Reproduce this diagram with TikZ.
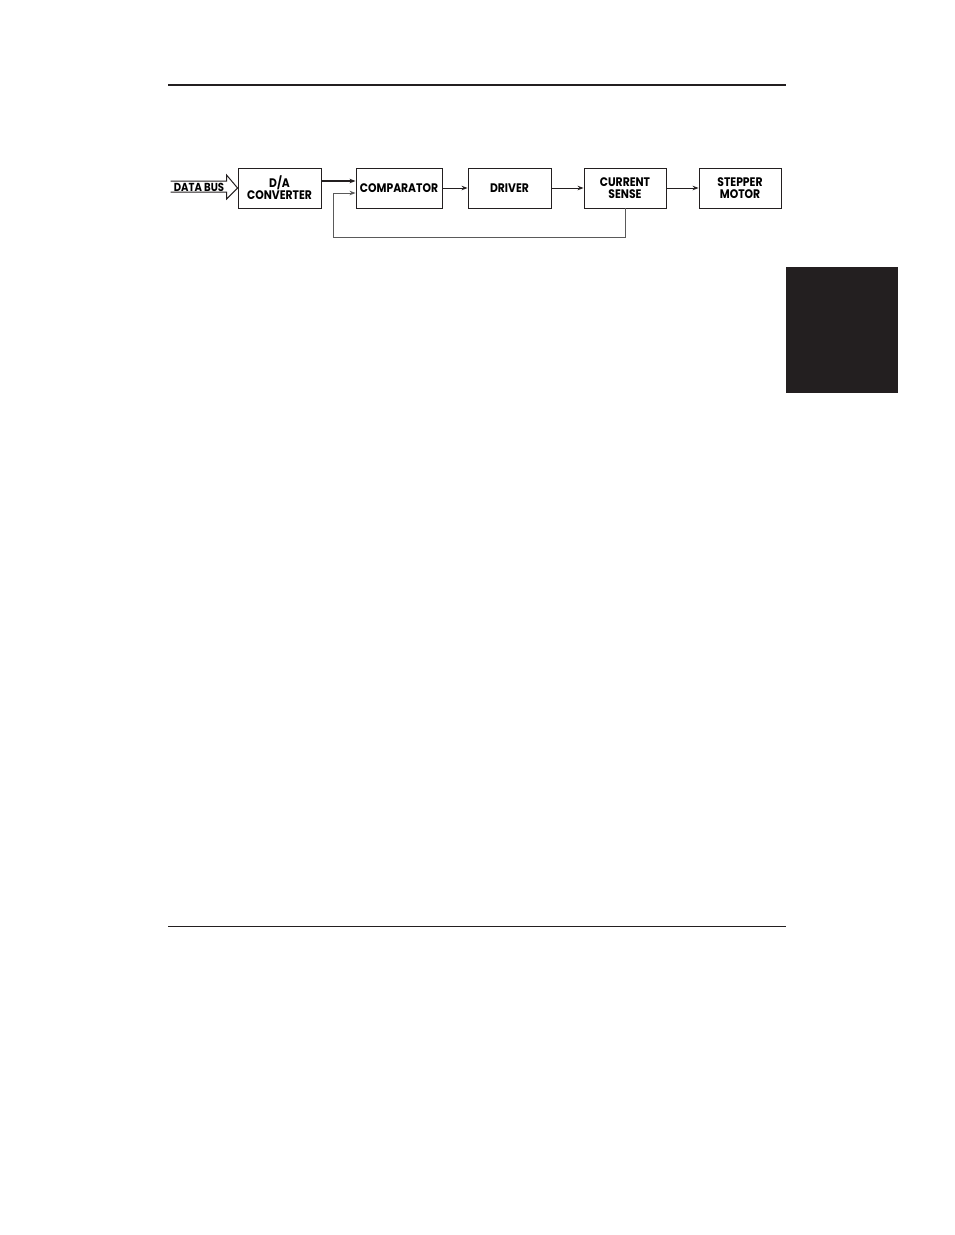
\documentclass[tikz,border=0pt]{standalone}
\usepackage{fontspec}
\setsansfont{Poppins}[FakeStretch=0.87]
\usepackage{tikz}
\usetikzlibrary{arrows.meta}
\usetikzlibrary{calc}
\definecolor{ink1}{RGB}{35, 31, 32}
\definecolor{grey1}{RGB}{90, 90, 90}

\begin{document}
\begin{tikzpicture}[x=1pt, y=-1pt, line width=0.9pt, draw=ink1,
  blk/.style={rectangle, draw=ink1, line width=0.9pt, minimum height=40pt, inner sep=0pt,
    align=center, font=\sffamily\bfseries\fontsize{12.4}{12}\selectfont},
  tip1/.style={-{Stealth[length=6pt,width=4.5pt]}}]
  \useasboundingbox (0,0) rectangle (954,1235);

  % page rules and tab
  \draw[line width=2pt] (168,85) -- (786,85);
  \draw[line width=1pt] (168,926) -- (786,926);
  \fill[ink1] (786,267) rectangle (898,393);

  \node[blk, minimum width=83pt] (da) at (279.5,188) {D/A\\CONVERTER};
  \node[blk, minimum width=86pt] (comp) at (399,188) {COMPARATOR};
  \node[blk, minimum width=83pt] (drv) at (509.5,188) {DRIVER};
  \node[blk, minimum width=82pt] (cs) at (625,188) {CURRENT\\SENSE};
  \node[blk, minimum width=82pt] (sm) at (740,188) {STEPPER\\MOTOR};

  \node[inner sep=0pt, font=\sffamily\bfseries\fontsize{11.6}{11.6}\selectfont] (bus) at (199,187) {DATA BUS};

  % hollow bus arrow
  \draw[line width=1pt] ($(da.west)+(-67,-7)$) -- ($(da.west)+(-11,-7)$) -- ($(da.west)+(-11,-13)$)
    -- (da.west) -- ($(da.west)+(-11,11)$) -- ($(da.west)+(-11,4)$) -- ($(da.west)+(-67,4)$);

  \draw[tip1, line width=1.3pt] ([yshift=7pt]da.east) -- ([yshift=7pt]comp.west);
  \foreach \from/\to in {comp/drv, drv/cs, cs/sm}
   \draw[tip1] (\from) -- (\to);
  \coordinate (fb) at (333,237);
  \draw[tip1, draw=grey1] (cs.south) |- (fb) |- ([yshift=-5pt]comp.west);
\end{tikzpicture}
\end{document}
